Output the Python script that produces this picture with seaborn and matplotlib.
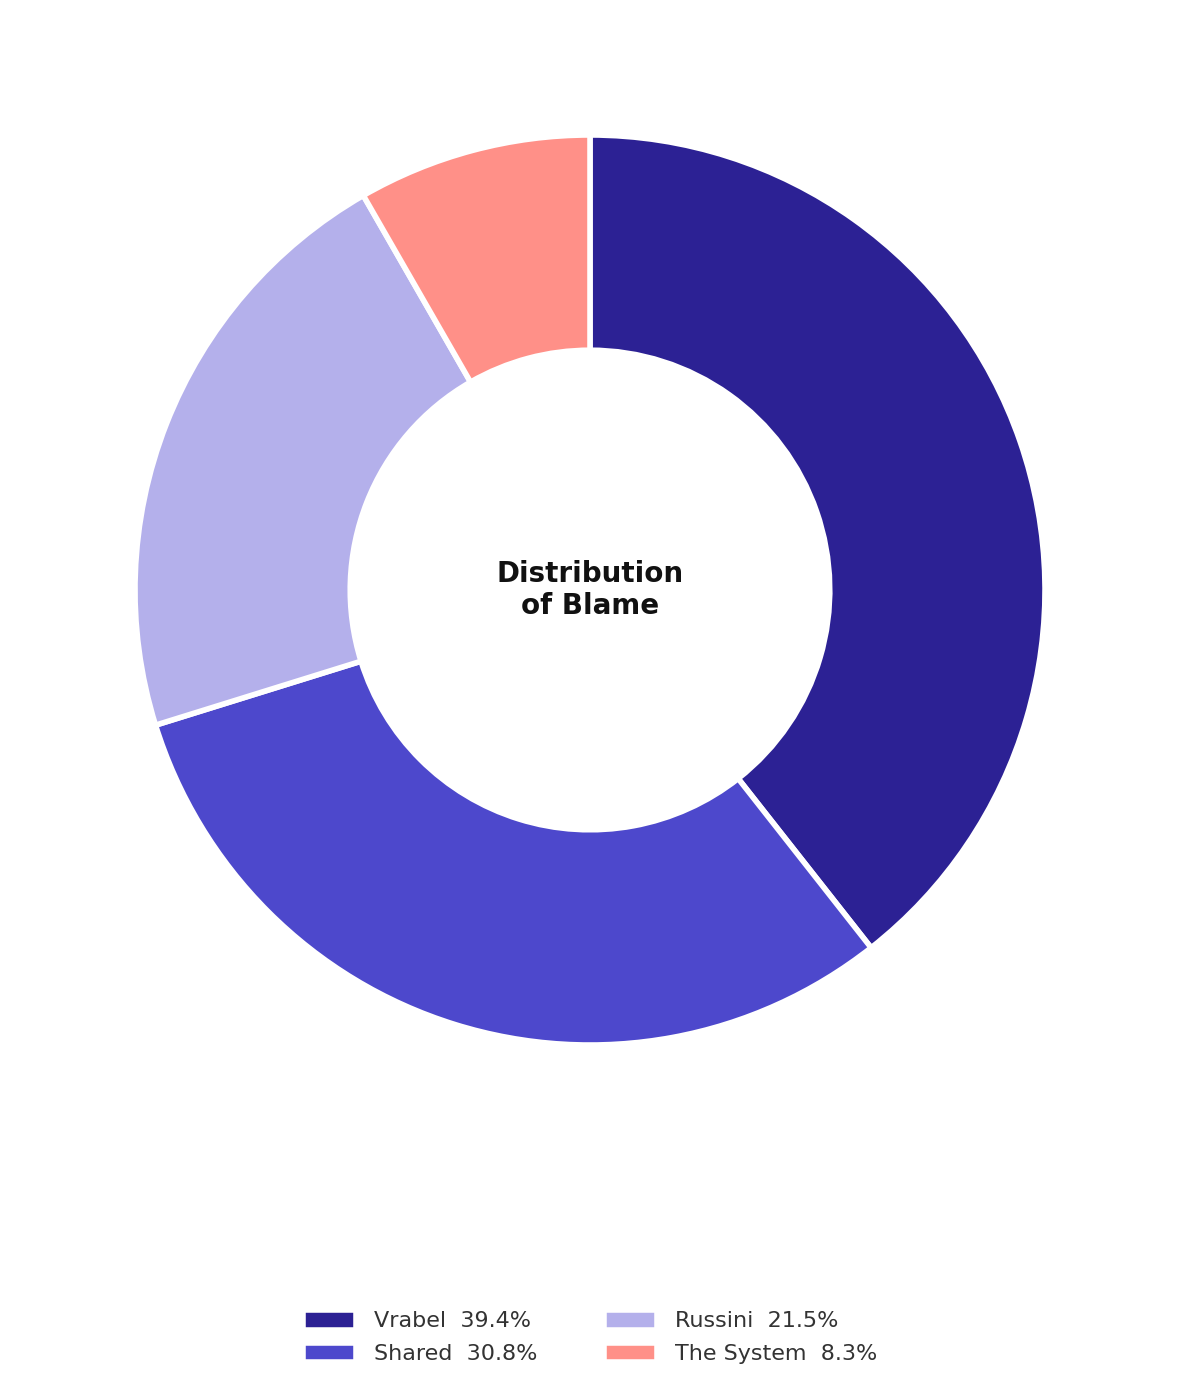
import matplotlib
matplotlib.use("Agg")
import matplotlib.pyplot as plt
import seaborn as sns

labels = ["Vrabel", "Shared", "Russini", "The System"]
shares = [39.4, 30.8, 21.5, 8.3]
colors = ["#2c2194", "#4d48cc", "#b4b0eb", "#ff9088"]

sns.set_style("white")
plt.rcParams['font.family'] = ['DejaVu Sans']

fig = plt.figure(figsize=(11.8, 13.97), dpi=100)
ax = fig.add_axes([135 / 1180, (1397 - 1045) / 1397, 910 / 1180, 910 / 1397])

wedges, _ = ax.pie(shares, colors=colors, startangle=90, counterclock=False,
                   radius=1, wedgeprops=dict(width=0.473, edgecolor="white", linewidth=4))
ax.set_xlim(-1, 1)
ax.set_ylim(-1, 1)
ax.set_aspect("equal")
ax.axis("off")

ax.text(0, 0, "Distribution\nof Blame", ha="center", va="center",
        fontsize=20, fontweight="bold", color="#111111", linespacing=1.15)

leg_labels = [f"{l}  {v}%" for l, v in zip(labels, shares)]
fig.legend(wedges, leg_labels, loc="center", bbox_to_anchor=(0.5, 1 - 1337 / 1397),
           ncol=2, frameon=False, fontsize=16, handlelength=2.4, handleheight=1.0,
           columnspacing=3.0, labelcolor="#333333")

fig.savefig("out.png", dpi=100)
